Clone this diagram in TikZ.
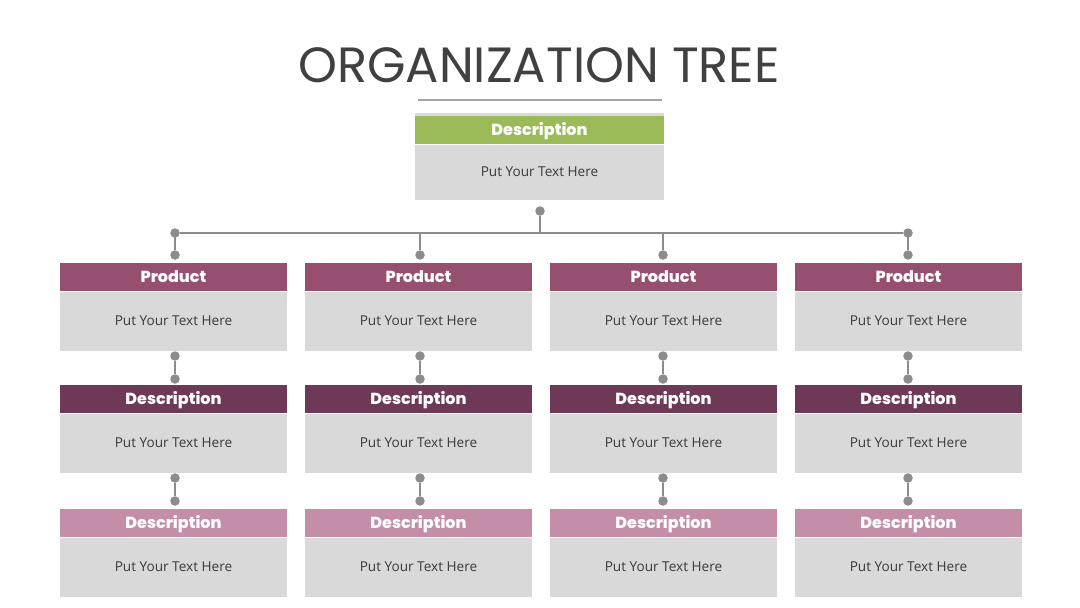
\documentclass[tikz,border=0pt]{standalone}
\usepackage{fontspec}
\setmainfont{Open Sans}
\newfontfamily\popfont{Poppins}
\newfontfamily\popheavy{Poppins}[UprightFont=* ExtraBold]
\definecolor{boxgray}{HTML}{D9D9D9}
\definecolor{textgray}{HTML}{3A3A3A}
\definecolor{titlegray}{HTML}{404040}
\definecolor{lineg}{HTML}{8C8C8C}
\definecolor{sepg}{HTML}{A6A6A6}
\definecolor{greenh}{HTML}{9BBB59}
\definecolor{prodh}{HTML}{964F6E}
\definecolor{darkh}{HTML}{6E3857}
\definecolor{lighth}{HTML}{C48DA8}
\tikzset{
  hdr/.style={minimum width=227pt, minimum height=28pt, inner sep=0pt, anchor=north,
    text height=11pt, text depth=0pt,
    font=\popheavy\fontsize{16}{19}\selectfont, text=white},
  bodybox/.style={fill=boxgray, minimum width=227pt, minimum height=59pt, inner sep=0pt, anchor=north,
    font=\fontsize{13.6}{16}\selectfont, text=textgray},
  conn/.style={draw=lineg, line width=2.5pt},
  dot/.style={circle, fill=lineg, inner sep=0pt, minimum size=9.5pt},
}
\begin{document}
\begin{tikzpicture}[x=1pt,y=-1pt]
\useasboundingbox (0,0) rectangle (1080,608);
% title
\node[anchor=base, font=\popfont\fontsize{49.5}{54}\selectfont, text=titlegray] (title) at (539,82.5) {ORGANIZATION TREE};
\coordinate (sepL) at (418,100);
\coordinate (sepR) at (662,100);
\draw[sepg, line width=2pt] (sepL) -- (sepR);
% top box
\fill[boxgray] (415,113) rectangle (664,116);
\node[hdr, fill=greenh, minimum width=249pt, minimum height=28pt] (top) at (539.5,116) {Description};
\node[bodybox, minimum width=249pt, minimum height=55pt] (topb) at (top.south) {Put Your Text Here};
% top connectors
\node[dot] (td) at (540,211) {};
\coordinate (tj) at (540,233);
\draw[conn, line width=2pt] (td) -- (tj);
\node[dot] (dl) at (175,233) {};
\node[dot] (dr) at (908,233) {};
\draw[conn, line width=2pt] (dl) -- (dr);
% columns
\foreach \c/\x in {1/173.5, 2/418.5, 3/663.5, 4/908.5}{
  \node[hdr, fill=prodh] (h\c1) at (\x,263) {Product};
  \node[bodybox] (b\c1) at (h\c1.south) {Put Your Text Here};
  \node[hdr, fill=darkh] (h\c2) at (\x,385) {Description};
  \node[bodybox] (b\c2) at (h\c2.south) {Put Your Text Here};
  \node[hdr, fill=lighth] (h\c3) at (\x,509) {Description};
  \node[bodybox] (b\c3) at (h\c3.south) {Put Your Text Here};
}
\foreach \c/\x in {1/175, 2/420, 3/663, 4/908}{
  \coordinate (j\c) at (\x,233);
  \node[dot] (p\c) at (\x,255) {};
  \draw[conn] (j\c) -- (p\c);
  \node[dot] (u\c1) at (\x,356) {};
  \node[dot] (v\c1) at (\x,379) {};
  \draw[conn] (u\c1) -- (v\c1);
  \node[dot] (u\c2) at (\x,478) {};
  \node[dot] (v\c2) at (\x,501) {};
  \draw[conn] (u\c2) -- (v\c2);
}
\end{tikzpicture}
\end{document}
